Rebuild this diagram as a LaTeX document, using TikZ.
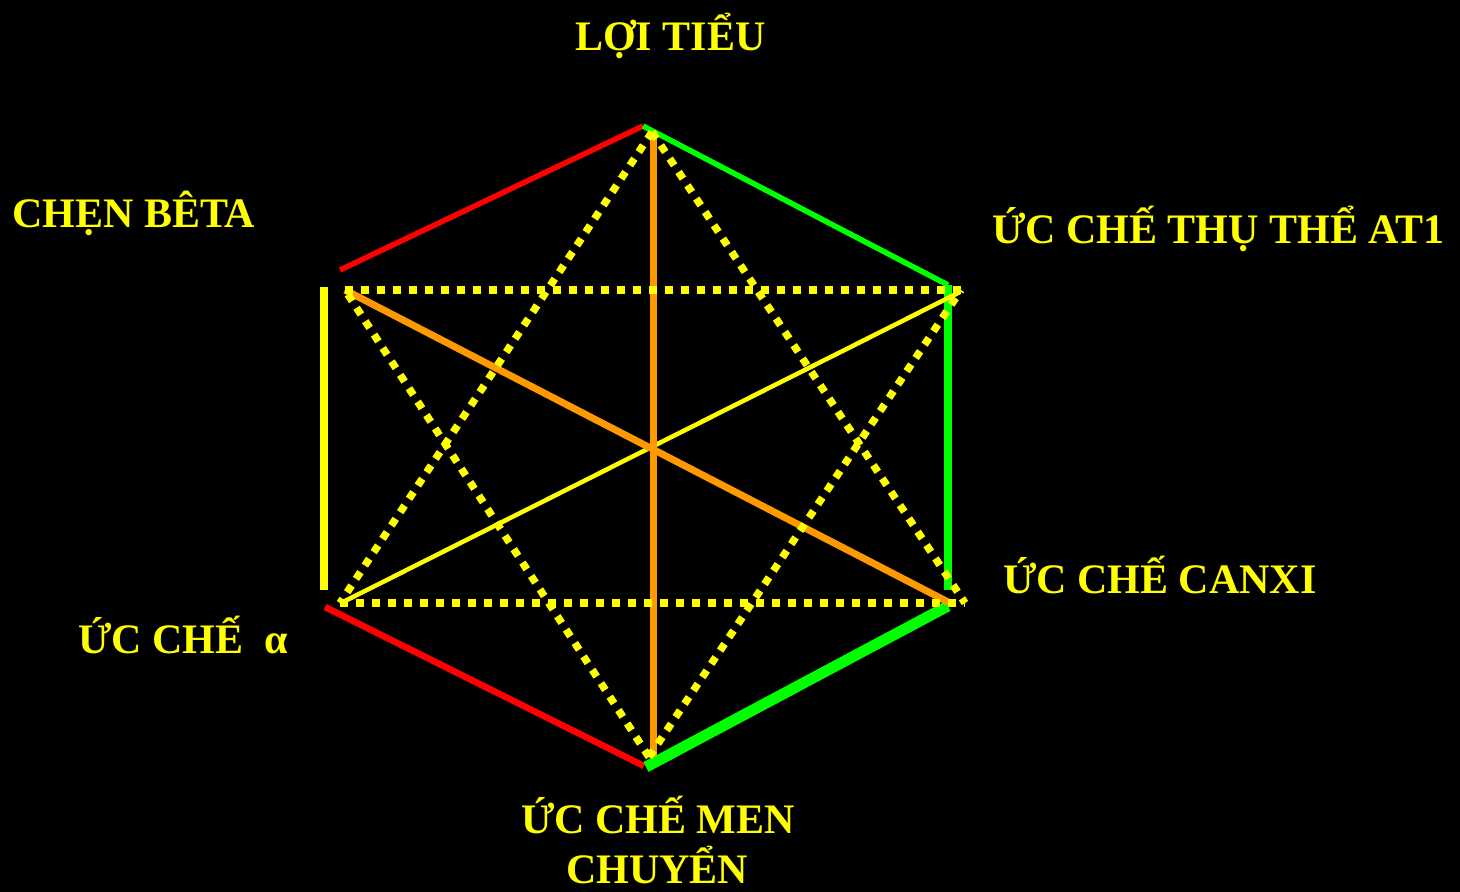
\documentclass[tikz,border=0pt]{standalone}
\usepackage{fontspec}
\setmainfont{Liberation Serif}
\definecolor{myyellow}{RGB}{255,255,0}
\definecolor{mygreen}{RGB}{0,255,0}
\definecolor{myred}{RGB}{255,0,0}
\definecolor{myorange}{RGB}{255,153,0}
\begin{document}
\begin{tikzpicture}[x=1pt,y=-1pt,
  lbl/.style={anchor=base west,inner sep=0pt,text=myyellow,font=\fontsize{42}{50}\selectfont\bfseries},
  dotline/.style={myyellow,line width=7.5pt,dash pattern=on 8pt off 8pt},
  redline/.style={myred,line width=5.5pt},
  greenline/.style={mygreen,line width=5.5pt},
  orangeline/.style={myorange,line width=7pt},
  yline/.style={myyellow,line width=4.5pt}]
\fill[black] (0,0) rectangle (1460,892);
\useasboundingbox (0,0) rectangle (1460,892);
% hexagon vertices
\coordinate (T) at (643,126);
\coordinate (ULr) at (340,270);
\coordinate (UR) at (948,285);
\coordinate (URv) at (948,590);
\coordinate (LLr) at (325,607);
\coordinate (B) at (644,766);
\coordinate (Bg) at (646,767);
\coordinate (LRg) at (948,606);
\coordinate (Ly1) at (324,287);
\coordinate (Ly2) at (324,590);
% inner points
\coordinate (oT) at (653,134);
\coordinate (oB) at (653,757);
\coordinate (dUL) at (345,290);
\coordinate (dUR) at (961,290);
\coordinate (dLL) at (340,603);
\coordinate (dLR) at (965,603);
\coordinate (oLR) at (950,603);
\coordinate (yUR) at (960,292);
\coordinate (yLL) at (343,602);
\coordinate (dT) at (652,132);
\coordinate (dB) at (649,757);
% solid edges
\draw[redline] (ULr) -- (T);
\draw[greenline] (T) -- (UR);
\draw[mygreen,line width=7.5pt] (UR) -- (URv);
\draw[myred,line width=6.5pt] (LLr) -- (B);
\draw[mygreen,line width=11pt] (Bg) -- (LRg);
\draw[myyellow,line width=7.5pt] (Ly1) -- (Ly2);
% inner solid lines
\draw[yline] (yLL) -- (yUR);
\draw[orangeline] (oT) -- (oB);
\draw[orangeline] (dUL) -- (oLR);
% dotted lines
\draw[dotline] (dUL) -- (dUR);
\draw[dotline] (dLL) -- (dLR);
\draw[dotline] (dT) -- (dLL);
\draw[dotline] (dT) -- (dLR);
\draw[dotline] (dB) -- (dUL);
\draw[dotline] (dB) -- (dUR);
% labels
\node[lbl] (t1) at (575,50) {LỢI TIỂU};
\node[lbl] (t2) at (12,227) {CHẸN BÊTA};
\node[lbl] (t3) at (992,243) {ỨC CHẾ THỤ THỂ AT1};
\node[lbl] (t4) at (1003,593) {ỨC CHẾ CANXI};
\node[lbl] (t5) at (78,653) {ỨC CHẾ\ \ α};
\node[lbl] (t6) at (521,833) {ỨC CHẾ MEN};
\node[lbl] (t7) at (566,883) {CHUYỂN};
\end{tikzpicture}
\end{document}
